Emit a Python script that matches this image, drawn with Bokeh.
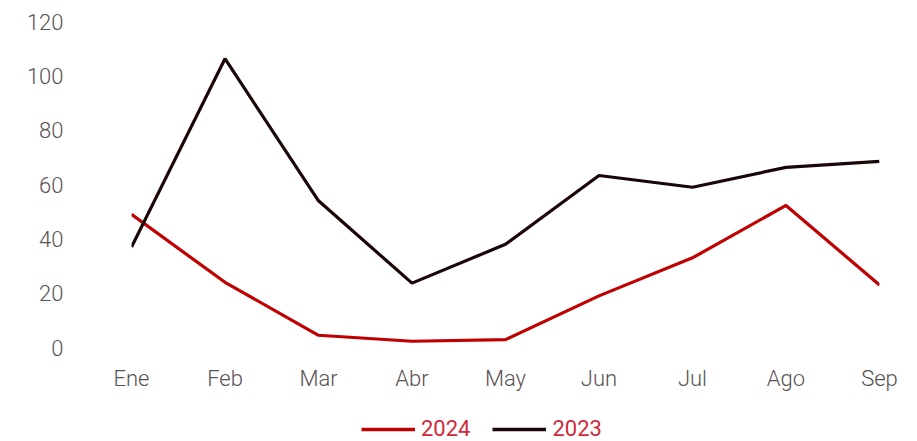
from bokeh.plotting import figure
from bokeh.layouts import column
from bokeh.models import Legend, LegendItem, FixedTicker, Range1d
from bokeh.embed import file_html
from bokeh.resources import INLINE

months = ["Ene", "Feb", "Mar", "Abr", "May", "Jun", "Jul", "Ago", "Sep"]
series_2024 = [49, 24, 4.5, 2.3, 2.9, 19, 33, 52.3, 23]
series_2023 = [37, 106.3, 54, 23.7, 38, 63.3, 59, 66.3, 68.5]
y_ticks = [0, 20, 40, 60, 80, 100, 120]
labels = ["2024", "2023"]
colors = ["#c00000", "#1a0606"]

xs = list(range(len(months)))
font = "'Roboto Light', Roboto"

p = figure(width=909, height=397, output_backend="svg",
           toolbar_location=None, min_border_left=131, min_border_right=30,
           min_border_top=21, min_border_bottom=50)
p.x_range = Range1d(0, len(months) - 1)
p.y_range = Range1d(0, 120)

p.outline_line_color = None
p.xgrid.grid_line_color = None
p.ygrid.grid_line_color = None

for ax in (p.xaxis[0], p.yaxis[0]):
    ax.axis_line_color = None
    ax.major_tick_line_color = None
    ax.minor_tick_line_color = None
    ax.major_tick_out = 0
    ax.major_tick_in = 0
    ax.major_label_text_font = font
    ax.major_label_text_font_style = "normal"
    ax.major_label_text_font_size = "22px"
    ax.major_label_text_color = "#5a5252"

p.xaxis.ticker = FixedTicker(ticks=xs)
p.xaxis.major_label_overrides = {i: m for i, m in enumerate(months)}
p.xaxis.major_label_standoff = 18
p.yaxis.ticker = FixedTicker(ticks=y_ticks)
p.yaxis.major_label_standoff = 68

p.line(xs, series_2024, line_color=colors[0], line_width=3.2)
p.line(xs, series_2023, line_color=colors[1], line_width=3.2)

# legend strip below the chart (frames are aligned with the chart above)
lg = figure(width=909, height=44, output_backend="svg", toolbar_location=None,
            x_axis_type=None, y_axis_type=None, min_border_left=131,
            min_border_right=30, min_border_top=0, min_border_bottom=0)
lg.x_range = Range1d(0, 1)
lg.y_range = Range1d(0, 1)
lg.outline_line_color = None
lg.grid.grid_line_color = None
items = []
for lab, col in zip(labels, colors):
    # single-point line: draws nothing, only serves the legend swatch
    r = lg.line(x=[0], y=[0], line_color=col, line_width=3.6)
    items.append(LegendItem(label=lab, renderers=[r]))

legend = Legend(items=items, orientation="horizontal", location=(230, 0),
                label_text_font="Roboto", label_text_font_size="22px",
                label_text_color="#d02a3a", glyph_width=54, glyph_height=20,
                label_height=20, label_standoff=6, spacing=22, padding=0,
                margin=0, border_line_color=None, background_fill_alpha=0)
lg.add_layout(legend, "center")

layout = column(p, lg, spacing=0)
open("out.html", "w").write(file_html(layout, INLINE))
